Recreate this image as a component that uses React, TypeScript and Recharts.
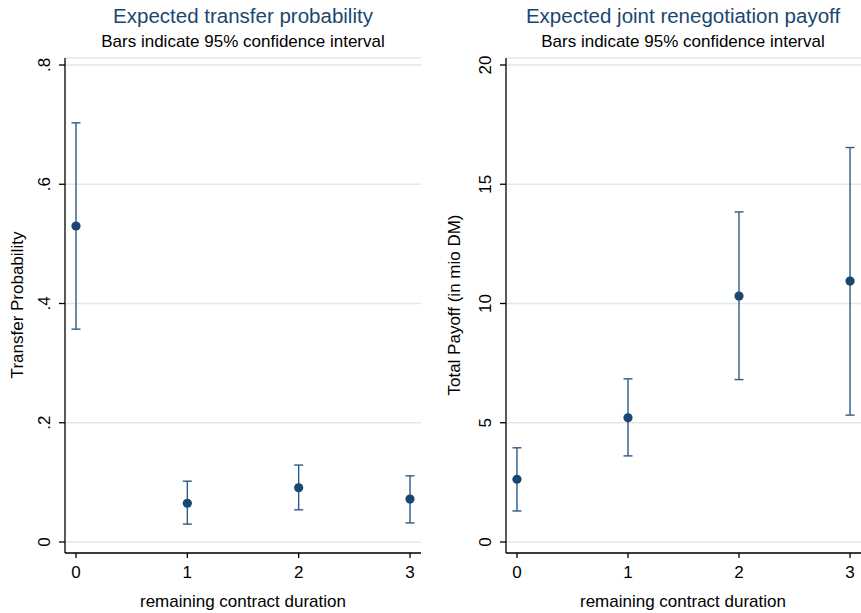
import React from 'react';
import { ComposedChart, Scatter, ErrorBar, XAxis, YAxis, CartesianGrid } from 'recharts';

// remaining contract duration (years)
const durations = [0, 1, 2, 3];

// left panel: expected transfer probability with 95% CI
const probMean = [0.53, 0.065, 0.091, 0.072];
const probLow = [0.357, 0.03, 0.054, 0.032];
const probHigh = [0.703, 0.102, 0.129, 0.111];
const probTicks = [0, 0.2, 0.4, 0.6, 0.8];

// right panel: expected joint renegotiation payoff (mio DM) with 95% CI
const payMean = [2.63, 5.21, 10.31, 10.94];
const payLow = [1.3, 3.61, 6.81, 5.32];
const payHigh = [3.95, 6.84, 13.84, 16.54];
const payTicks = [0, 5, 10, 15, 20];

const xTicks = [0, 1, 2, 3];

const NAVY = '#1a476f';
const BAR = '#2f5b85';
const GRID = '#dfe9ec';
const FONT = '"Liberation Sans", Arial, Helvetica, sans-serif';

const build = (mean: number[], low: number[], high: number[]) =>
  durations.map((d, i) => ({
    x: d,
    y: mean[i],
    err: [mean[i] - low[i], high[i] - mean[i]],
  }));

const probData = build(probMean, probLow, probHigh);
const payData = build(payMean, payLow, payHigh);

const fmtProb = (v: number) => (v === 0 ? '0' : v.toFixed(1).replace(/^0/, ''));

// rotated y tick label, baseline 15px left of the axis line
const yTick = (axisX: number, fmt: (v: number) => string) => (props: any) => {
  const { y, payload } = props;
  const bx = axisX - 15;
  return (
    <text
      x={bx}
      y={y}
      transform={`rotate(-90 ${bx} ${y})`}
      textAnchor="middle"
      fontSize={17}
      fill="#000"
    >
      {fmt(payload.value)}
    </text>
  );
};

const Dot = (props: any) => {
  const { cx, cy } = props;
  if (cx == null || cy == null) return null;
  return <circle cx={cx} cy={cy} r={4.6} fill={NAVY} />;
};

interface PanelProps {
  data: { x: number; y: number; err: number[] }[];
  width: number;
  yWidth: number;
  right: number;
  yDomain: [number, number];
  yTicks: number[];
  fmt: (v: number) => string;
}

const Panel: React.FC<PanelProps> = ({ data, width, yWidth, right, yDomain, yTicks, fmt }) => (
  <ComposedChart
    width={width}
    height={613}
    data={data}
    margin={{ top: 58, right, bottom: 0, left: 0 }}
  >
    <CartesianGrid vertical={false} stroke={GRID} strokeWidth={1.6} />
    <XAxis
      type="number"
      dataKey="x"
      domain={[-0.0988, 3.0988]}
      ticks={xTicks}
      allowDataOverflow
      height={60}
      tickSize={5}
      tickMargin={8}
      axisLine={{ stroke: '#000', strokeWidth: 1.3 }}
      tickLine={{ stroke: '#000', strokeWidth: 1.3 }}
      tick={{ fontSize: 17, fill: '#000' }}
    />
    <YAxis
      type="number"
      dataKey="y"
      domain={yDomain}
      ticks={yTicks}
      allowDataOverflow
      width={yWidth}
      tickSize={6}
      axisLine={{ stroke: '#000', strokeWidth: 1.3 }}
      tickLine={{ stroke: '#000', strokeWidth: 1.3 }}
      tick={yTick(yWidth, fmt)}
    />
    <Scatter dataKey="y" shape={<Dot />} isAnimationActive={false}>
      <ErrorBar dataKey="err" direction="y" width={4.5} stroke={BAR} strokeWidth={1.4} isAnimationActive={false} />
    </Scatter>
  </ComposedChart>
);

const App: React.FC = () => (
  <div style={{ position: 'absolute', left: 0, top: 0, width: 861, height: 613, background: '#fff', fontFamily: FONT }}>
    <div style={{ display: 'flex' }}>
      <Panel
        data={probData}
        width={431}
        yWidth={65}
        right={10}
        yDomain={[-0.01845, 0.81174]}
        yTicks={probTicks}
        fmt={fmtProb}
      />
      <Panel
        data={payData}
        width={430}
        yWidth={75}
        right={0}
        yDomain={[-0.4612, 20.2935]}
        yTicks={payTicks}
        fmt={(v) => String(v)}
      />
    </div>
    <svg width={861} height={613} style={{ position: 'absolute', left: 0, top: 0, pointerEvents: 'none' }}>
      <g fontFamily={FONT} textAnchor="middle">
        <text x={243} y={23} fontSize={20.5} fill={NAVY}>Expected transfer probability</text>
        <text x={243} y={47} fontSize={17} fill="#000">Bars indicate 95% confidence interval</text>
        <text x={683} y={23} fontSize={20.5} fill={NAVY}>Expected joint renegotiation payoff</text>
        <text x={683} y={47} fontSize={17} fill="#000">Bars indicate 95% confidence interval</text>
        <text x={243} y={607} fontSize={17} fill="#000">remaining contract duration</text>
        <text x={683} y={607} fontSize={17} fill="#000">remaining contract duration</text>
        <text x={23} y={305} fontSize={17} fill="#000" transform="rotate(-90 23 305)">Transfer Probability</text>
        <text x={460} y={305} fontSize={17} fill="#000" transform="rotate(-90 460 305)">Total Payoff (in mio DM)</text>
      </g>
    </svg>
  </div>
);

export default App;
